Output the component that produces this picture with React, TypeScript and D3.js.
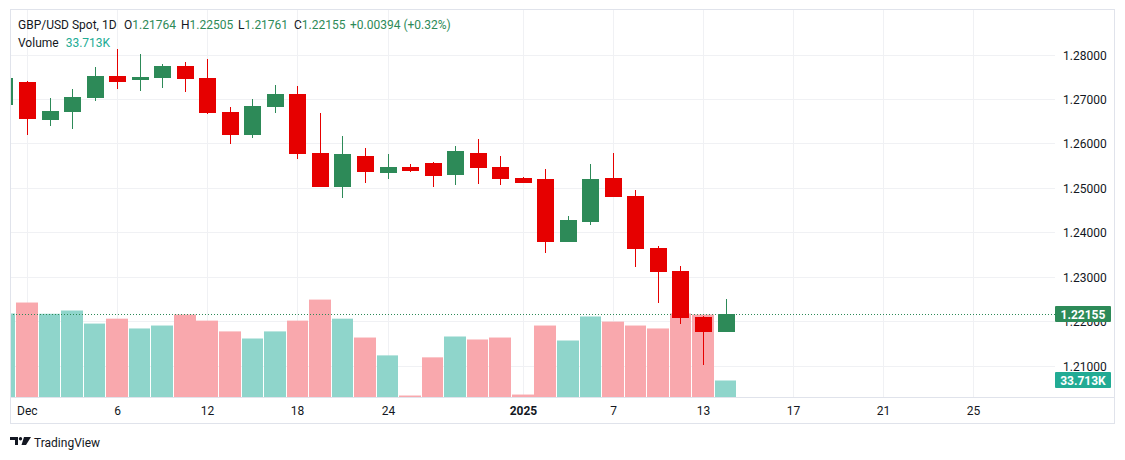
import React from "react";
import * as d3 from "d3";

const dates = ["Nov 29","Dec 2","Dec 3","Dec 4","Dec 5","Dec 6","Dec 9","Dec 10","Dec 11","Dec 12","Dec 13","Dec 16","Dec 17","Dec 18","Dec 19","Dec 20","Dec 23","Dec 24","Dec 25","Dec 26","Dec 27","Dec 30","Dec 31","Jan 1","Jan 2","Jan 3","Jan 6","Jan 7","Jan 8","Jan 9","Jan 10","Jan 13","Jan 14"];
const opens = [1.26859,1.2738,1.2652,1.2670,1.2702,1.2751,1.2742,1.2747,1.2774,1.2747,1.2670,1.2618,1.2682,1.2711,1.2578,1.2502,1.2571,1.2533,1.2547,1.2556,1.2529,1.2578,1.2547,1.2522,1.2520,1.2378,1.2423,1.2522,1.2481,1.2364,1.2313,1.2209,1.21764];
const highs = [1.2760,1.2740,1.2702,1.2722,1.2771,1.2812,1.2801,1.2778,1.2783,1.2789,1.2682,1.2699,1.2731,1.2729,1.2668,1.2616,1.2589,1.2576,1.2553,1.2558,1.2594,1.2610,1.2571,1.2524,1.2542,1.2436,1.2553,1.2578,1.2495,1.2369,1.2324,1.2212,1.22505];
const lows = [1.2670,1.2618,1.2639,1.2632,1.2695,1.2722,1.2717,1.2724,1.2715,1.2667,1.2599,1.2612,1.2668,1.2565,1.2501,1.2477,1.2511,1.2520,1.2535,1.2502,1.2506,1.2508,1.2506,1.2510,1.2353,1.2378,1.2416,1.2479,1.2322,1.2241,1.2193,1.2101,1.21761];
const closes = [1.2746,1.2654,1.2672,1.2704,1.2751,1.2738,1.2749,1.2774,1.2744,1.2668,1.2618,1.2684,1.2711,1.2576,1.2502,1.2576,1.2535,1.2547,1.2538,1.2526,1.2583,1.2544,1.2520,1.2511,1.2378,1.2427,1.2520,1.2479,1.2362,1.2310,1.2207,1.21755,1.22155];
const volumesK = [170.6,193,170,176.7,150,160,140,146,168.5,156,134,119.5,134,156,199,160,121.5,85,3,81,123.6,117.5,121.5,5,146,115.4,164.5,154,146,140,170.6,168.5,33.713];
const volumeUp = [true,false,true,true,true,false,true,true,false,false,false,true,true,false,false,true,false,true,false,false,true,false,false,false,false,true,true,false,false,false,false,false,true];

const timeTickLabels = ["Dec","6","12","18","24","2025","7","13","17","21","25"];
const timeTickIndex = [1,5,9,13,17,23,27,31,35,39,43];
const priceTicks = [1.21,1.22,1.23,1.24,1.25,1.26,1.27,1.28];

const lastPrice = 1.22155;
const lastVolumeLabel = "33.713K";
const changeLabel = "+0.00394 (+0.32%)";

const UP = "#2d8a58";
const DOWN = "#e60000";
const VOL_UP = "#8fd5cb";
const VOL_DOWN = "#f9a8ad";
const VOL_LABEL = "#22ab94";
const TEXT = "#131722";
const GRID = "#f0f1f4";
const BORDER = "#e0e3eb";
const FONT = "Roboto, 'Noto Sans', sans-serif";

export default function App() {
  const W = 1125, H = 460;
  const plotL = 10, plotR = 1055, plotT = 10, plotB = 397;
  const x = d3.scaleLinear().domain([1, 31]).range([27.5, 703.5]);
  const y = d3.scaleLinear().domain([1.21, 1.28]).range([365.5, 54.5]);
  const yv = d3.scaleLinear().domain([0, 200]).range([plotB, plotB - 97.9]);
  const fmt = d3.format(".5f");
  const last = volumesK.length - 1;
  const volLabelY = Math.round(yv(volumesK[last]));
  const priceLabelY = Math.round(y(lastPrice));

  const legendItems = [
    { k: "O", v: fmt(opens[last]), x: 124 },
    { k: "H", v: fmt(highs[last]), x: 181 },
    { k: "L", v: fmt(lows[last]), x: 238 },
    { k: "C", v: fmt(closes[last]), x: 294 },
  ];

  return (
    <svg width={W} height={H} style={{ position: "absolute", left: 0, top: 0, background: "#fff" }} fontFamily={FONT}>
      <defs>
        <clipPath id="plot">
          <rect x={plotL} y={plotT} width={plotR - plotL} height={plotB - plotT} />
        </clipPath>
      </defs>
      <rect x={0} y={0} width={W} height={H} fill="#fff" />
      <g clipPath="url(#plot)">
        {priceTicks.map((p) => (
          <line key={"h" + p} x1={plotL} x2={plotR} y1={Math.round(y(p)) + 0.5} y2={Math.round(y(p)) + 0.5} stroke={GRID} />
        ))}
        {timeTickIndex.map((i) => (
          <line key={"v" + i} x1={Math.floor(x(i)) + 0.5} x2={Math.floor(x(i)) + 0.5} y1={plotT} y2={plotB} stroke={GRID} />
        ))}
        {volumesK.map((v, i) => {
          const cx = x(i);
          const l = Math.round(cx - 11.27);
          const r = Math.round(cx + 11.27) - 1;
          return (
            <rect key={"vol" + i} x={l} width={r - l} y={yv(v)} height={plotB - yv(v)} fill={volumeUp[i] ? VOL_UP : VOL_DOWN} />
          );
        })}
        <line x1={plotL} x2={plotR} y1={priceLabelY + 0.5} y2={priceLabelY + 0.5} stroke={UP} strokeDasharray="1 2" />
        {dates.map((d, i) => {
          const o = opens[i], c = closes[i], h = highs[i], lo = lows[i];
          const col = c >= o ? UP : DOWN;
          const cx = Math.floor(x(i));
          const top = Math.round(y(Math.max(o, c)));
          const bot = Math.max(Math.round(y(Math.min(o, c))), top + 1);
          return (
            <g key={d}>
              <rect x={cx} width={1} y={Math.round(y(h))} height={Math.round(y(lo)) - Math.round(y(h))} fill={col} />
              <rect x={cx - 8} width={17} y={top} height={bot - top} fill={col} />
            </g>
          );
        })}
      </g>
      <rect x={10.5} y={9.5} width={1104} height={414} fill="none" stroke={BORDER} />
      <line x1={10} x2={1115} y1={plotB + 0.5} y2={plotB + 0.5} stroke={BORDER} />

      {priceTicks.map((p) => (
        <text key={"pl" + p} x={1063} y={Math.round(y(p)) + 4.5} fontSize={12} fill={TEXT}>
          {fmt(p)}
        </text>
      ))}
      <rect x={1055} y={priceLabelY - 8} width={56} height={16} fill={UP} rx={1} />
      <text x={1083} y={priceLabelY + 4.5} fontSize={12} fill="#fff" fontWeight="bold" textAnchor="middle">
        {fmt(lastPrice)}
      </text>
      <rect x={1055} y={volLabelY - 8} width={56} height={16} fill={VOL_LABEL} rx={1} />
      <text x={1083} y={volLabelY + 4.5} fontSize={12} fill="#fff" fontWeight="bold" textAnchor="middle">
        {lastVolumeLabel}
      </text>

      {timeTickLabels.map((t, k) => (
        <text key={"t" + t + k} x={k === 0 ? Math.floor(x(timeTickIndex[k])) - 10 : Math.floor(x(timeTickIndex[k])) + 0.5} y={415} fontSize={12} fill={TEXT} textAnchor={k === 0 ? "start" : "middle"} fontWeight={t === "2025" ? "bold" : "normal"}>
          {t}
        </text>
      ))}

      <text x={18} y={29} fontSize={12} fill={TEXT}>GBP/USD Spot, 1D</text>
      {legendItems.map((it) => (
        <text key={it.k} x={it.x} y={29} fontSize={12} fill={TEXT}>
          <tspan>{it.k}</tspan>
          <tspan fill={UP}>{it.v}</tspan>
        </text>
      ))}
      <text x={350} y={29} fontSize={12} fill={UP}>{changeLabel}</text>
      <text x={18} y={47} fontSize={12} fill={TEXT}>
        <tspan>Volume</tspan>
        <tspan dx={7} fill={VOL_LABEL}>{lastVolumeLabel}</tspan>
      </text>

      <g transform="translate(10,437)" fill={TEXT}>
        <path d="M0 0 H8 V8 H5 V3 H0 Z" />
        <circle cx={10.5} cy={1.7} r={1.7} />
        <path d="M14 0 H21 L16 8 H11.5 Z" />
      </g>
      <text x={34} y={447} fontSize={12} fill={TEXT}>TradingView</text>
    </svg>
  );
}
